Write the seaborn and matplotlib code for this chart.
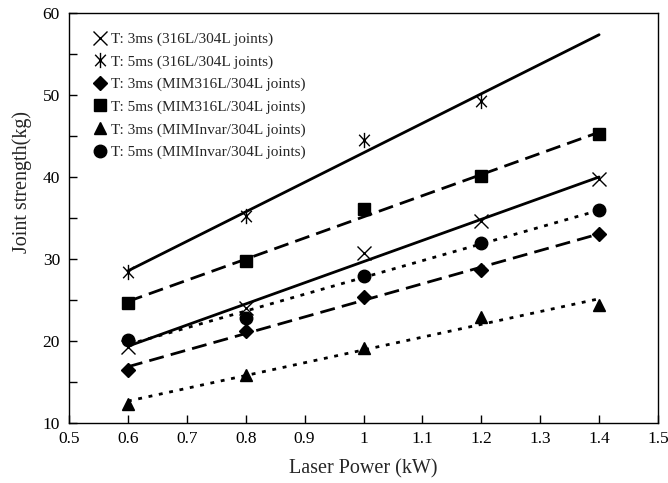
import numpy as np
import pandas as pd
import matplotlib
matplotlib.use("Agg")
import matplotlib.pyplot as plt
from matplotlib.path import Path
import seaborn as sns

# ---- data ----
power = [0.6, 0.8, 1.0, 1.2, 1.4]
s316_3ms = [19.3, 24.0, 30.7, 34.6, 39.8]
s316_5ms = [28.4, 35.2, 44.5, 49.3, np.nan]
mim316_3ms = [16.5, 21.2, 25.4, 28.7, 33.0]
mim316_5ms = [24.6, 29.7, 36.1, 40.1, 45.2]
invar_3ms = [12.35, 15.8, 19.1, 22.9, 24.4]
invar_5ms = [20.1, 22.8, 27.9, 31.95, 36.0]

labels = [
    "T: 3ms (316L/304L joints)",
    "T: 5ms (316L/304L joints)",
    "T: 3ms (MIM316L/304L joints)",
    "T: 5ms (MIM316L/304L joints)",
    "T: 3ms (MIMInvar/304L joints)",
    "T: 5ms (MIMInvar/304L joints)",
]
series = [s316_3ms, s316_5ms, mim316_3ms, mim316_5ms, invar_3ms, invar_5ms]

x_ticks = [0.5, 0.6, 0.7, 0.8, 0.9, 1.0, 1.1, 1.2, 1.3, 1.4, 1.5]
x_tick_labels = ["0.5", "0.6", "0.7", "0.8", "0.9", "1", "1.1", "1.2", "1.3", "1.4", "1.5"]
y_ticks = [10, 15, 20, 25, 30, 35, 40, 45, 50, 55, 60]
y_tick_labels = ["10", "", "20", "", "30", "", "40", "", "50", "", "60"]

# ---- style ----
sns.set_theme(style="ticks")
plt.rcParams["font.family"] = ["Liberation Serif", "DejaVu Serif"]

# asterisk: vertical stroke + X
asterisk = Path(
    [(0, -1), (0, 1), (-0.7, -0.75), (0.7, 0.75), (-0.7, 0.75), (0.7, -0.75)],
    [Path.MOVETO, Path.LINETO, Path.MOVETO, Path.LINETO, Path.MOVETO, Path.LINETO],
)

markers = ["x", asterisk, "D", "s", "^", "o"]
msizes = [10, 11, 7, 9, 9, 9]
mew = [1.0, 1.0, 1, 1, 1, 1]
linestyles = [
    "-",
    "-",
    (0, (5.4, 2.6)),
    (0, (5.4, 2.6)),
    (0, (1.4, 2.4)),
    (0, (1.4, 2.4)),
]

fig = plt.figure(figsize=(6.68, 4.83), dpi=100)
ax = fig.add_axes([69 / 668, 1 - 423 / 483, 589 / 668, 410 / 483])

fit_x = np.array([min(power), max(power)])

for vals, lab, mk, ms, mw, ls in zip(series, labels, markers, msizes, mew, linestyles):
    df = pd.DataFrame({"power": power, "strength": vals}).dropna()
    # linear trend line fitted to the data, spanning the full power range
    coef = np.polyfit(df["power"], df["strength"], 1)
    fit_df = pd.DataFrame({"power": fit_x, "strength": np.polyval(coef, fit_x)})
    sns.lineplot(data=fit_df, x="power", y="strength", color="black",
                 linewidth=2.0, linestyle=ls, ax=ax, legend=False)
    sns.lineplot(data=df, x="power", y="strength", color="black", linestyle="none",
                 marker=mk, markersize=ms, markeredgewidth=mw,
                 markerfacecolor="black", markeredgecolor="black", label=lab, ax=ax)

ax.set_xlim(0.5, 1.5)
ax.set_ylim(10, 60)
ax.set_xticks(x_ticks)
ax.set_xticklabels(x_tick_labels)
ax.set_yticks(y_ticks)
ax.set_yticklabels(y_tick_labels)
ax.tick_params(axis="both", direction="in", length=6, width=1, colors="black",
               labelsize=12.5, top=False, right=False)
ax.tick_params(axis="x", pad=5.5)
ax.tick_params(axis="y", pad=6.5)
for sp in ax.spines.values():
    sp.set_visible(True)
    sp.set_color("black")
    sp.set_linewidth(1.0)

ax.set_xlabel("Laser Power (kW)", fontsize=14.5, labelpad=9)
ax.set_ylabel("Joint strength(kg)", fontsize=14.5)
ax.yaxis.set_label_coords(-0.062, 0.588)

leg = ax.legend(loc="upper left", bbox_to_anchor=(0.025, 0.975), frameon=False,
                fontsize=11, handlelength=0.9, handletextpad=0.3,
                labelspacing=0.57, borderaxespad=0.2)

fig.savefig("out.png", dpi=100, facecolor="white")
